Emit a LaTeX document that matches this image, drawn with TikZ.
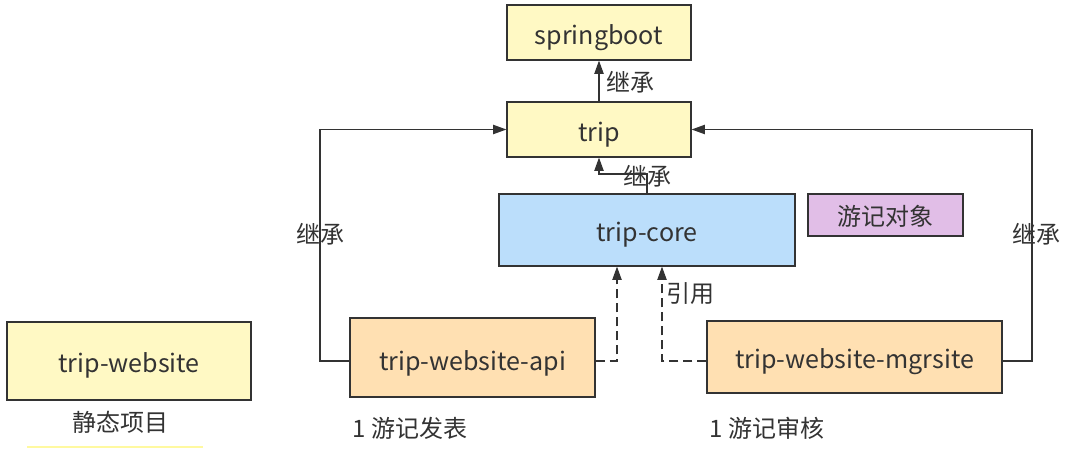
\documentclass[tikz,border=0pt]{standalone}
\usepackage{fontspec}
\setmainfont{Noto Sans CJK SC}
\usetikzlibrary{arrows.meta,calc}
\definecolor{lyel}{HTML}{FFF9C4}
\definecolor{lblue}{HTML}{BBDEFB}
\definecolor{lorg}{HTML}{FFE0B2}
\definecolor{lpur}{HTML}{E1BEE7}
\definecolor{ink}{HTML}{333333}
\definecolor{hiyel}{HTML}{FFF9A0}
\newcommand{\bxt}[2][8.7pt]{\raisebox{-#1}{#2}}
\begin{document}
\begin{tikzpicture}[x=0.75pt,y=-0.75pt,
  box/.style={draw=ink,line width=0.9pt,inner sep=0pt,text=ink,text height=0pt,text depth=0pt,font=\fontsize{18.8pt}{22pt}\selectfont},
  lbl/.style={text=ink,inner sep=0pt,font=\fontsize{18pt}{21pt}\selectfont},
  arr/.style={draw=ink,line width=0.9pt,-{Triangle[length=10pt,width=7pt]}},
  dsh/.style={arr,dash pattern=on 6.75pt off 3.75pt}]
\useasboundingbox (0,0) rectangle (1078,449);
\node[box,fill=lyel,minimum width=138pt,minimum height=41.25pt] (sb) at (599,32.5) {\bxt{springboot}};
\node[box,fill=lyel,minimum width=138pt,minimum height=41.25pt] (trip) at (599,129.5) {\bxt{trip}};
\node[box,fill=lblue,minimum width=222pt,minimum height=54pt] (core) at (647,230) {\bxt{trip-core}};
\node[box,fill=lpur,minimum width=116.25pt,minimum height=31.5pt,font=\fontsize{18pt}{21pt}\selectfont] (obj) at (885.5,215) {\bxt[7.5pt]{游记对象}};
\node[box,fill=lorg,minimum width=183.75pt,minimum height=59.25pt] (api) at (472.5,357.5) {\bxt[9.7pt]{trip-website-api}};
\node[box,fill=lorg,minimum width=221.25pt,minimum height=54pt] (mgr) at (854.5,357) {\bxt{trip-website-mgrsite}};
\node[box,fill=lyel,minimum width=183pt,minimum height=58.5pt] (web) at (129,361) {\bxt{trip-website}};
\coordinate (yl) at (0,361);
\coordinate (lc) at (320,250);
\coordinate (rc) at (1032,250);
\coordinate (j) at (599,174);
\draw[arr] (trip.north) -- (sb.south);
\draw[arr] (core.north) |- (j) -- (trip.south);
\draw[arr] (api.west |- yl) -| (lc) |- (trip.west);
\draw[arr] (mgr.east |- yl) -| (rc) |- (trip.east);
\draw[dsh] (api.east |- yl) -| ([xshift=-22.5pt]core.south);
\draw[dsh] (mgr.west |- yl) -| ([xshift=11.25pt]core.south);
\node[lbl] (l1) at (630,82) {继承};
\node[lbl] (l2) at (647,176) {继承};
\node[lbl] (l3) at (320,234) {继承};
\node[lbl] (l4) at (1036,234) {继承};
\node[lbl] (l5) at (690,294) {引用};
\node[lbl] (t1) at (120,422) {静态项目};
\node[lbl] (t2) at (410,428) {1 游记发表};
\node[lbl] (t3) at (767,428) {1 游记审核};
\draw[hiyel,line width=1.5pt] (27,447) -- (203,447);
\end{tikzpicture}
\end{document}
